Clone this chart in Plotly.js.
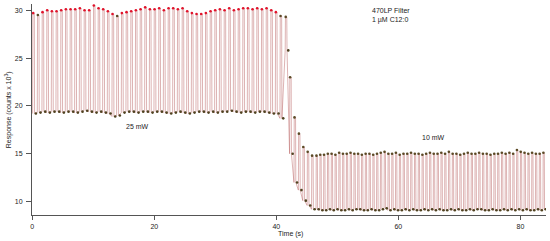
<!DOCTYPE html>
<html>
<head>
<meta charset="utf-8">
<script src="https://cdn.plot.ly/plotly-3.0.1.min.js"></script>
<style>
  html, body { margin: 0; padding: 0; background: #fff; }
  #chart { width: 550px; height: 241px; }
</style>
</head>
<body>
<div id="chart"></div>
<script>
// Tramo a 25 mW: un pico (alto) y un valle (bajo) por ciclo
const start25 = 0.05;
const period25 = 0.765;
const hi25 = [29.7, 29.5, 29.8, 30.0, 29.9, 29.9, 30.0, 30.1, 30.1, 30.1, 30.2, 30.0, 30.0, 30.5,
  30.2, 30.1, 29.9, 29.6, 29.4, 29.7, 29.8, 29.9, 30.0, 30.1, 30.3, 30.1, 30.1, 30.2, 30.0, 30.2,
  30.2, 30.1, 30.2, 29.9, 29.7, 29.6, 29.6, 29.7, 29.9, 30.0, 30.1, 30.0, 30.2, 30.0, 30.1, 30.2,
  30.2, 30.1, 30.2, 30.1, 30.2, 30.0, 29.8, 29.4];
const lo25 = [19.2, 19.3, 19.4, 19.3, 19.4, 19.4, 19.3, 19.4, 19.4, 19.3, 19.4, 19.5, 19.4, 19.3,
  19.4, 19.3, 19.2, 18.9, 19.0, 19.3, 19.4, 19.4, 19.3, 19.4, 19.4, 19.3, 19.4, 19.4, 19.3, 19.2,
  19.3, 19.4, 19.3, 19.2, 19.3, 19.4, 19.4, 19.3, 19.4, 19.3, 19.4, 19.4, 19.5, 19.4, 19.3, 19.4,
  19.4, 19.3, 19.4, 19.4, 19.3, 19.2, 19.2, 18.7];

// Caída al cambiar la potencia
const startDrop = 41.45;
const periodDrop = 0.72;
const hiDrop = [29.3, 23.0, 18.8, 17.1, 15.7, 15.2, 14.8];
const loDrop = [25.8, 15.0, 12.0, 11.2, 10.1, 9.6, 9.2];

// Tramo a 10 mW
const start10 = 46.5;
const period10 = 0.62;
const hi10 = [14.8, 14.9, 14.9, 15.0, 15.0, 14.9, 15.1, 15.0, 15.0, 15.1, 15.0, 15.0, 14.9, 15.0,
  15.0, 14.9, 15.0, 15.1, 15.2, 15.0, 15.0, 15.1, 14.9, 15.0, 15.0, 15.1, 15.0, 15.0, 14.9, 15.0,
  15.1, 15.0, 15.0, 15.1, 15.0, 15.2, 15.0, 15.0, 14.9, 15.0, 15.1, 15.0, 15.0, 15.1, 15.0, 15.0,
  14.9, 15.0, 15.0, 15.1, 15.0, 15.1, 15.0, 15.4, 15.2, 15.1, 15.0, 15.1, 15.0, 15.0, 15.1];
const lo10 = [9.2, 9.1, 9.1, 9.2, 9.1, 9.2, 9.1, 9.1, 9.2, 9.1, 9.2, 9.2, 9.1, 9.1,
  9.2, 9.1, 9.1, 9.2, 9.3, 9.1, 9.2, 9.1, 9.1, 9.2, 9.1, 9.2, 9.1, 9.1, 9.2, 9.1,
  9.2, 9.1, 9.2, 9.1, 9.1, 9.2, 9.1, 9.2, 9.1, 9.1, 9.2, 9.1, 9.2, 9.2, 9.1, 9.1,
  9.2, 9.1, 9.1, 9.2, 9.1, 9.2, 9.1, 9.2, 9.1, 9.2, 9.1, 9.1, 9.2, 9.1, 9.2];

const xTicks = [0, 20, 40, 60, 80];
const yTicks = [10, 15, 20, 25, 30];

// Construir la señal cuadrada y los puntos de pico/valle
const t = [], y = [];
const tHi = [], yHi = [], tLo = [], yLo = [];

function addSegment(start, period, his, los) {
  his.forEach((h, i) => {
    const t0 = start + i * period;
    const l = los[i];
    t.push(t0, t0 + 0.06 * period, t0 + 0.36 * period, t0 + 0.42 * period);
    y.push(l, h, h, l);
    tHi.push(t0 + 0.12 * period);
    yHi.push(h);
    tLo.push(t0 + 0.7 * period);
    yLo.push(l);
  });
}
addSegment(start25, period25, hi25, lo25);
addSegment(startDrop, periodDrop, hiDrop, loDrop);
addSegment(start10, period10, hi10, lo10);

const hiColors = yHi.map((v) => (v > 29.5 ? "#e0132b" : "#5b4a26"));

const font = { family: "Liberation Sans, Arial, sans-serif", size: 7, color: "#222" };

const data = [
  {
    x: t, y: y, mode: "lines", hoverinfo: "skip",
    line: { color: "rgba(185,100,100,0.55)", width: 0.9 },
  },
  {
    x: tHi, y: yHi, mode: "markers",
    marker: { color: hiColors, size: 2.6 },
  },
  {
    x: tLo, y: yLo, mode: "markers",
    marker: { color: "#4f4220", size: 2.6 },
  },
];

const axisBase = {
  showline: true, linecolor: "#555", linewidth: 1,
  showgrid: false, zeroline: false,
  ticks: "outside", tickcolor: "#555", tickwidth: 1,
  tickfont: font,
};

const layout = {
  width: 550, height: 241,
  margin: { l: 32, r: 4, t: 4, b: 26 },
  paper_bgcolor: "#fff", plot_bgcolor: "#fff",
  showlegend: false,
  font: font,
  xaxis: Object.assign({}, axisBase, {
    range: [-0.05, 84.2], tickvals: xTicks, ticklen: 4, ticklabelstandoff: 1,
  }),
  yaxis: Object.assign({}, axisBase, {
    range: [8.6, 30.65], tickvals: yTicks, ticklen: 5, ticklabelstandoff: 2,
  }),
  annotations: [
    { xref: "paper", yref: "paper", x: 0.657, y: 0.995, xanchor: "left", yanchor: "top",
      align: "left", showarrow: false, text: "470LP Filter<br>1 µM C12:0", font: font },
    { xref: "x", yref: "y", x: 17.2, y: 17.8, showarrow: false, text: "25 mW", font: font },
    { xref: "x", yref: "y", x: 65.8, y: 16.7, showarrow: false, text: "10 mW", font: font },
    { xref: "paper", yref: "paper", x: 0.502, y: -0.09, yanchor: "middle",
      showarrow: false, text: "Time (s)", font: font },
    { xref: "paper", yref: "paper", x: -0.058, y: 0.5, textangle: -90,
      showarrow: false, text: "Response (counts x 10<sup>3</sup>)", font: font },
  ],
};

Plotly.newPlot("chart", data, layout, { staticPlot: true, displayModeBar: false });
</script>
</body>
</html>
